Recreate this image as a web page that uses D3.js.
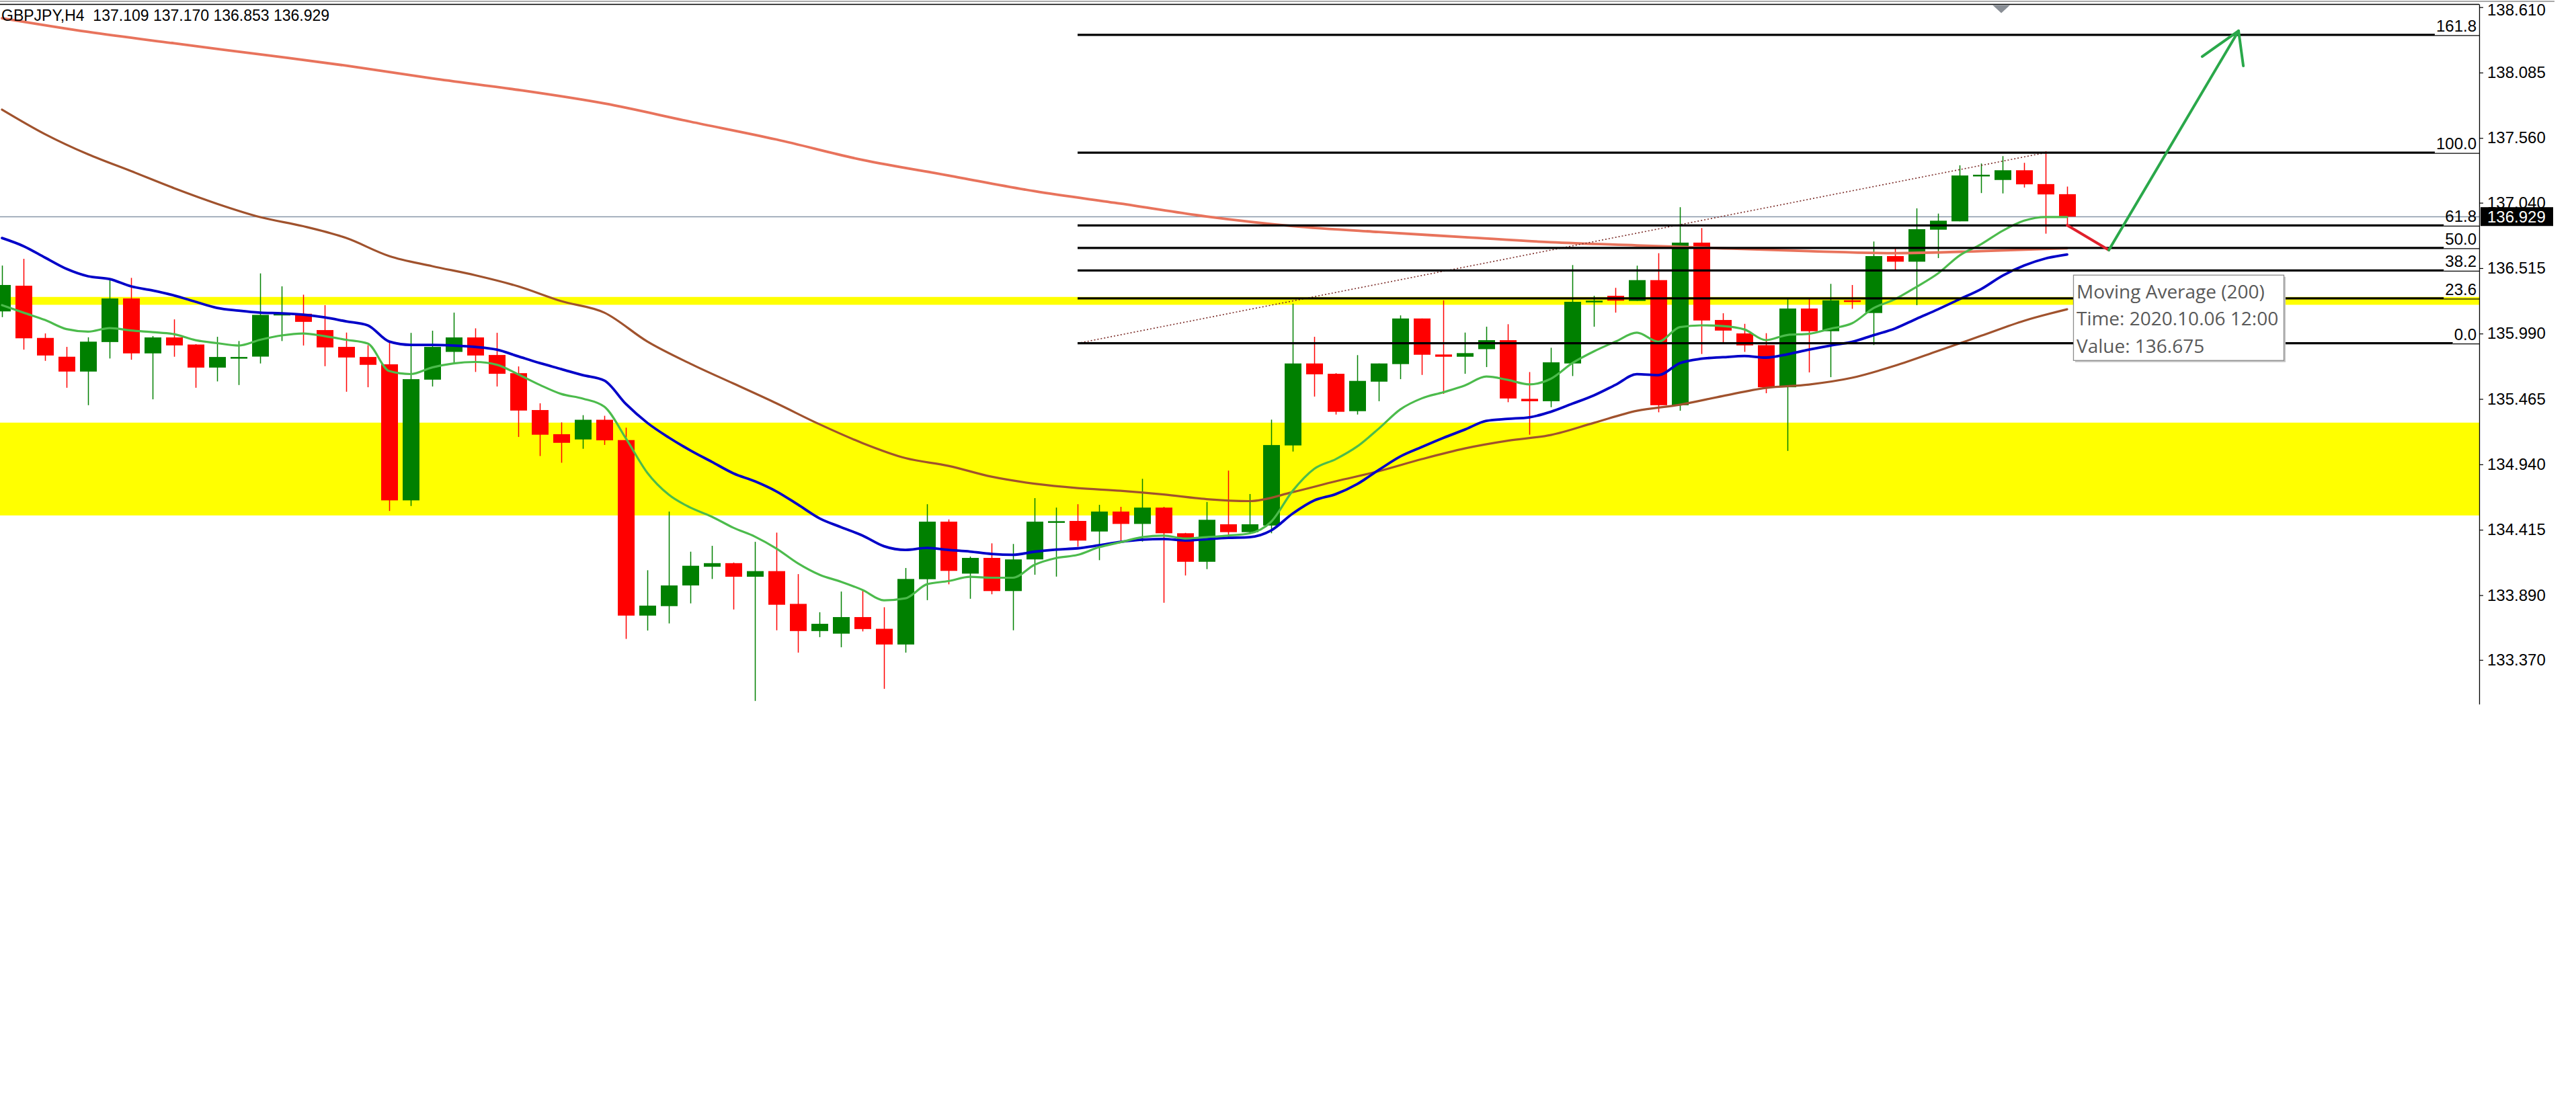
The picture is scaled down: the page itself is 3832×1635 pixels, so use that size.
<!DOCTYPE html>
<html>
<head>
<meta charset="utf-8">
<script src="https://cdn.jsdelivr.net/npm/d3@7/dist/d3.min.js"></script>
<style>
html,body{margin:0;padding:0;background:#fff;overflow:hidden;}
svg{display:block;}
</style>
</head>
<body>
<svg id="c" width="3832" height="1635"></svg>
<script>
// ---------------- DATA ----------------
const symbol = "GBPJPY,H4";
const opens = [136.168,136.374,135.955,135.804,135.685,135.922,136.272,135.831,135.959,135.902,
135.717,135.795,135.805,136.140,136.149,136.018,135.883,135.802,135.743,134.651,
135.620,135.843,135.959,135.818,135.672,135.376,135.182,135.140,135.298,135.135,
133.726,133.802,133.968,134.118,134.147,134.038,134.083,133.820,133.602,133.581,
133.714,133.620,133.494,134.018,134.480,134.063,134.189,133.923,134.177,134.473,
134.486,134.401,134.561,134.462,134.593,134.387,134.158,134.459,134.396,134.449,
135.092,135.750,135.667,135.367,135.604,135.745,136.111,135.822,135.804,135.865,
135.937,135.466,135.447,135.750,136.243,136.293,136.252,136.419,135.415,136.720,
136.099,135.991,135.897,135.559,136.191,136.009,136.257,136.155,136.612,136.567,
136.824,136.891,137.258,137.223,137.301,137.190,137.109];
const highs = [136.536,136.590,135.991,135.883,135.960,136.419,136.437,135.970,136.104,135.905,
135.964,135.930,136.473,136.369,136.302,136.218,135.998,135.897,135.925,135.996,
136.013,136.158,136.032,135.996,135.726,135.430,135.277,135.335,135.330,135.235,
134.090,134.561,134.239,134.286,134.152,134.318,134.392,134.059,133.753,133.919,
133.932,133.793,134.108,134.620,134.498,134.200,134.306,134.301,134.669,134.593,
134.620,134.615,134.599,134.824,134.599,134.390,134.638,134.890,134.702,135.299,
136.230,135.964,135.672,135.817,135.750,136.136,136.111,136.257,135.998,136.045,
136.065,135.681,135.876,136.540,136.293,136.357,136.535,136.635,137.004,136.837,
136.153,136.068,135.993,136.266,136.272,136.389,136.380,136.729,136.671,136.995,
136.953,137.340,137.355,137.414,137.360,137.454,137.170];
const lows = [136.122,135.861,135.771,135.555,135.415,135.790,135.780,135.462,135.804,135.555,
135.606,135.577,135.750,135.930,135.894,135.728,135.523,135.559,134.566,134.606,
135.565,135.753,135.682,135.565,135.160,135.007,134.953,135.065,135.096,133.539,
133.606,133.663,133.824,134.020,133.775,133.041,133.608,133.429,133.553,133.472,
133.599,133.138,133.429,133.850,133.977,133.861,133.897,133.608,134.054,134.039,
134.279,134.171,134.329,134.320,133.829,134.048,134.099,134.354,134.390,134.387,
135.043,135.484,135.340,135.340,135.447,135.624,135.658,135.506,135.667,135.721,
135.439,135.178,135.399,135.649,136.045,136.158,136.252,135.358,135.371,135.826,
135.912,135.843,135.511,135.048,135.678,135.640,136.189,135.898,136.500,136.218,
136.596,136.891,137.118,137.115,137.162,136.792,136.853];
const closes = [136.380,135.952,135.814,135.685,135.925,136.272,135.831,135.959,135.895,135.717,
135.802,135.802,136.140,136.149,136.084,135.879,135.798,135.739,134.651,135.624,
135.883,135.959,135.814,135.667,135.372,135.178,135.113,135.298,135.133,133.726,
133.806,133.968,134.126,134.147,134.038,134.083,133.813,133.602,133.660,133.714,
133.618,133.494,134.020,134.480,134.085,134.189,133.923,134.177,134.480,134.484,
134.328,134.561,134.462,134.593,134.387,134.158,134.495,134.396,134.459,135.095,
135.750,135.663,135.362,135.610,135.750,136.111,135.820,135.804,135.833,135.937,
135.469,135.447,135.759,136.245,136.254,136.254,136.419,135.415,136.720,136.095,
136.014,135.895,135.559,136.191,136.009,136.257,136.254,136.612,136.567,136.828,
136.896,137.259,137.265,137.301,137.188,137.107,136.929];

// moving averages
const maFast = [136.218,136.158,136.099,136.026,136.006,136.034,136.015,136.001,135.985,135.937,
135.913,135.894,135.940,135.975,135.991,135.969,135.940,135.910,135.689,135.665,
135.718,135.751,135.762,135.740,135.662,135.578,135.505,135.468,135.403,135.149,
134.872,134.696,134.593,134.520,134.431,134.360,134.264,134.145,134.054,133.998,
133.932,133.849,133.865,133.978,134.003,134.037,134.030,134.030,134.134,134.188,
134.213,134.275,134.315,134.356,134.368,134.345,134.356,134.368,134.386,134.480,
134.728,134.904,134.982,135.084,135.227,135.381,135.470,135.519,135.573,135.645,
135.618,135.582,135.627,135.753,135.847,135.925,135.997,135.925,136.042,136.056,
136.050,136.023,135.937,135.979,135.988,136.029,136.072,136.194,136.266,136.365,
136.473,136.617,136.707,136.815,136.896,136.926,136.926];
const maMid = [136.757,136.692,136.600,136.509,136.450,136.428,136.369,136.336,136.296,136.245,
136.196,136.174,136.158,136.153,136.142,136.120,136.088,136.056,135.926,135.899,
135.899,135.894,135.883,135.861,135.807,135.753,135.705,135.656,135.613,135.425,
135.273,135.155,135.052,134.960,134.868,134.804,134.723,134.617,134.507,134.436,
134.369,134.283,134.253,134.269,134.253,134.240,134.221,134.214,134.239,134.256,
134.266,134.291,134.318,134.336,134.341,134.329,134.340,134.350,134.356,134.410,
134.545,134.650,134.701,134.782,134.895,135.003,135.079,135.152,135.219,135.289,
135.305,135.318,135.362,135.427,135.494,135.578,135.664,135.656,135.753,135.788,
135.800,135.810,135.797,135.824,135.861,135.894,135.923,135.977,136.031,136.109,
136.185,136.266,136.347,136.455,136.536,136.593,136.625];
const maSlowIdx = d3.range(0, 97, 2);
const maSlow = [137.788,137.591,137.429,137.294,137.157,137.032,136.925,136.852,136.757,136.612,
136.531,136.458,136.369,136.250,136.158,135.926,135.748,135.589,135.430,135.262,
135.111,134.990,134.928,134.841,134.785,134.750,134.728,134.698,134.661,134.645,
134.717,134.804,134.885,134.982,135.068,135.130,135.176,135.273,135.370,135.419,
135.489,135.554,135.581,135.635,135.732,135.851,135.972,136.093,136.185];
const ma200Idx = d3.range(0, 97, 4);
const ma200 = [138.522,138.412,138.320,138.231,138.141,138.038,137.946,137.837,137.691,137.548,
137.384,137.259,137.133,137.033,136.930,136.853,136.805,136.764,136.723,136.698,
136.674,136.652,136.636,136.652,136.675];

const priceTicks = [138.610,138.085,137.560,137.040,136.515,135.990,135.465,134.940,134.415,133.890,133.370];
const lastPrice = 136.929;

// drawn objects
const zones = [[136.284,136.221],[135.275,134.530]];
const fibLevels = [0.0,23.6,38.2,50.0,61.8,100.0,161.8];
const fibFrom = {i:50, p:135.912};
const fibTo = {i:95, p:137.442};
const redArrow = [{i:96.0,p:136.860},{i:97.94,p:136.660}];
const greenArrow = [{i:97.94,p:136.660},{i:103.97,p:138.420}];
const greenArrowHead = [{i:102.28,p:138.214},{i:103.97,p:138.420},{i:104.19,p:138.139}];
const tooltipTitle = "Moving Average (200)";
const tooltipTime = "2020.10.06 12:00";
const tooltipAnchor = {i:96.28, p:136.462};
const shiftMarker = 92.94;

// ---------------- CHART ----------------
const plot = {left:0, right:3688, top:6.5, bottom:1048};
const x = d3.scaleLinear().domain([0,96]).range([3,3075]);
const y = d3.scaleLinear().domain([133.370,138.610]).range([981.8,10.7]);
const FONT = "'Liberation Sans', Arial, sans-serif";
const svg = d3.select('#c');
svg.append('rect').attr('width',3832).attr('height',1635).attr('fill','#fff');

svg.append('defs').append('clipPath').attr('id','clip')
  .append('rect').attr('x',plot.left).attr('y',plot.top)
  .attr('width',plot.right-plot.left).attr('height',plot.bottom-plot.top);
const g = svg.append('g').attr('clip-path','url(#clip)');

// yellow zones
g.selectAll('rect.zone').data(zones).join('rect').attr('class','zone')
  .attr('x',plot.left).attr('width',plot.right-plot.left)
  .attr('y',d=>y(d[0])).attr('height',d=>y(d[1])-y(d[0]))
  .attr('fill','#ffff00');

// bid line
g.append('line').attr('x1',plot.left).attr('x2',plot.right)
  .attr('y1',Math.round(y(lastPrice))+0.5).attr('y2',Math.round(y(lastPrice))+0.5)
  .attr('stroke','#8796a8').attr('stroke-width',1.3);

// candles
const candles = d3.range(opens.length).map(i=>({i,o:opens[i],h:highs[i],l:lows[i],c:closes[i]}));
const col = d=> d.c>=d.o ? '#008000' : '#ff0000';
const bw = 25;
g.selectAll('line.wick').data(candles).join('line').attr('class','wick')
  .attr('x1',d=>Math.round(x(d.i))+0.5).attr('x2',d=>Math.round(x(d.i))+0.5)
  .attr('y1',d=>y(d.h)).attr('y2',d=>y(d.l))
  .attr('stroke',col).attr('stroke-width',1.5);
g.selectAll('rect.body').data(candles).join('rect').attr('class','body')
  .attr('x',d=>Math.round(x(d.i))+0.5-bw/2).attr('width',bw)
  .attr('y',d=>Math.min(y(d.o),y(d.c)))
  .attr('height',d=>Math.max(2.5,Math.abs(y(d.o)-y(d.c))))
  .attr('fill',col);

// moving averages
function maLine(idx, vals, color, w){
  const pts = idx.map((k,j)=>[k,vals[j]]);
  g.append('path').datum(pts)
    .attr('d',d3.line().x(d=>x(d[0])).y(d=>y(d[1])).curve(d3.curveMonotoneX))
    .attr('fill','none').attr('stroke',color).attr('stroke-width',w)
    .attr('stroke-linejoin','round').attr('stroke-linecap','round');
}
maLine(ma200Idx, ma200, '#e8735c', 3.8);
maLine(maSlowIdx, maSlow, '#a0522d', 3.2);
maLine(d3.range(maMid.length), maMid, '#0000c8', 3.8);
maLine(d3.range(maFast.length), maFast, '#4cbb4c', 3.2);

// fibonacci
const fibPrice = l => fibFrom.p + (fibTo.p-fibFrom.p)*l/100;
g.append('line')
  .attr('x1',x(fibFrom.i)).attr('y1',y(fibFrom.p))
  .attr('x2',x(fibTo.i)).attr('y2',y(fibTo.p))
  .attr('stroke','#7a2a26').attr('stroke-width',1.6).attr('stroke-dasharray','2,3');
const fibG = svg.append('g');
fibLevels.forEach(l=>{
  const yy = y(fibPrice(l));
  const t = fibG.append('text').attr('x',plot.right-4).attr('y',yy-5)
    .attr('text-anchor','end').attr('font-family',FONT).attr('font-size',24)
    .attr('fill','#000').text(l.toFixed(1));
  const tl = t.node().getComputedTextLength();
  const xl = plot.right-4-tl-2;
  fibG.append('line').attr('x1',x(fibFrom.i)).attr('x2',xl).attr('y1',yy).attr('y2',yy)
    .attr('stroke','#000').attr('stroke-width',3.2);
  fibG.append('line').attr('x1',xl).attr('x2',plot.right).attr('y1',yy+1).attr('y2',yy+1)
    .attr('stroke','#000').attr('stroke-width',1.2);
});

// arrows
const aLine = d3.line().x(d=>x(d.i)).y(d=>y(d.p));
svg.append('path').attr('d',aLine(redArrow)).attr('fill','none')
  .attr('stroke','#e0202c').attr('stroke-width',4).attr('stroke-linecap','round');
svg.append('path').attr('d',aLine(greenArrow)).attr('fill','none')
  .attr('stroke','#2aa84a').attr('stroke-width',4).attr('stroke-linecap','round');
svg.append('path').attr('d',aLine(greenArrowHead)).attr('fill','none')
  .attr('stroke','#2aa84a').attr('stroke-width',4).attr('stroke-linecap','round').attr('stroke-linejoin','round');

// tooltip
const tx = x(tooltipAnchor.i), ty = y(tooltipAnchor.p);
const tw = 313, th = 127;
svg.append('rect').attr('x',tx+3).attr('y',ty+3).attr('width',tw).attr('height',th).attr('fill','#c4c4c4');
svg.append('rect').attr('x',tx+0.5).attr('y',ty+0.5).attr('width',tw).attr('height',th)
  .attr('fill','#fff').attr('stroke','#8c8c8c').attr('stroke-width',1.3);
const ttLines = [tooltipTitle, 'Time: '+tooltipTime, 'Value: '+ma200[ma200.length-1].toFixed(3)];
svg.selectAll('text.tt').data(ttLines).join('text').attr('class','tt')
  .attr('x',tx+5).attr('y',(d,k)=>ty+35+k*40.5)
  .attr('font-family',"'Open Sans', 'Noto Sans', sans-serif").attr('font-size',28)
  .attr('fill','#595959').text(d=>d);

// right axis
const axis = d3.axisRight(y).tickValues(priceTicks).tickFormat(d3.format('.3f')).tickSize(6).tickPadding(6);
const ag = svg.append('g').attr('transform',`translate(${plot.right},0)`).call(axis);
ag.select('.domain').remove();
ag.selectAll('.tick line').attr('stroke','#000').attr('stroke-width',1.2);
ag.selectAll('.tick text').attr('font-family',FONT).attr('font-size',24).attr('fill','#000')
  .attr('dy',d=> d===priceTicks[0] ? '0.5em' : '0.32em');
svg.append('line').attr('x1',plot.right+0.5).attr('x2',plot.right+0.5)
  .attr('y1',plot.top).attr('y2',plot.bottom).attr('stroke','#000').attr('stroke-width',1.3);

// current price box
const py = y(lastPrice);
svg.append('rect').attr('x',plot.right+2).attr('y',py-14).attr('width',108).attr('height',28).attr('fill','#000');
svg.append('text').attr('x',plot.right+12).attr('y',py).attr('dy','0.35em')
  .attr('font-family',FONT).attr('font-size',24).attr('fill','#fff').text(lastPrice.toFixed(3));

// frame lines
svg.append('line').attr('x1',0).attr('x2',3800).attr('y1',2).attr('y2',2).attr('stroke','#a8a8a8').attr('stroke-width',2);
svg.append('line').attr('x1',0).attr('x2',plot.right).attr('y1',plot.top).attr('y2',plot.top).attr('stroke','#000').attr('stroke-width',1.5);
const sx = x(shiftMarker);
svg.append('path').attr('d',`M${sx-13},${plot.top+1}L${sx+13},${plot.top+1}L${sx},${plot.top+13}Z`).attr('fill','#8a8f96');

// header
const last = candles[candles.length-1];
svg.append('text').attr('x',2).attr('y',31).style('white-space','pre')
  .attr('font-family',FONT).attr('font-size',23).attr('fill','#000')
  .text(symbol+'  '+[last.o,last.h,last.l,last.c].map(v=>v.toFixed(3)).join(' '));
</script>
</body>
</html>
